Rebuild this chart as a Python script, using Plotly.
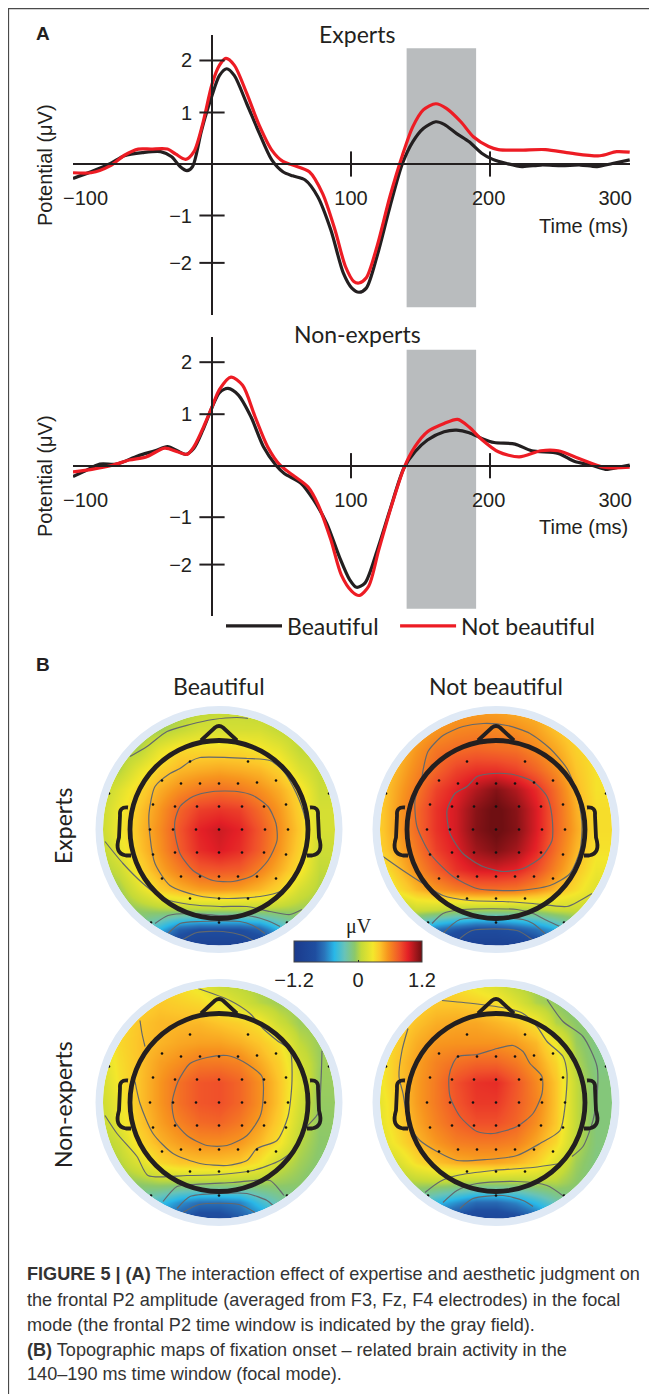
import plotly.graph_objects as go

# ---------- Panel A data ----------
exp_beautiful_t = [-100,-87,-73,-63,-50,-37,-29,-23,-18,-14,-8,-5,0,5.4,10.6,16,25,34,43,51,58,67,76,85.5,94.5,100.6,105.7,111,118.7,128,137,144.4,152,161,167,176,185,194,202,212,223,236.6,251.7,265,277,288,300.5]
exp_beautiful_v = [-0.28,-0.15,0.01,0.16,0.22,0.24,0.14,-0.05,-0.13,-0.05,0.6,0.9,1.33,1.72,1.85,1.72,1.17,0.6,0.08,-0.15,-0.23,-0.31,-0.63,-1.28,-2.12,-2.41,-2.49,-2.41,-1.79,-0.83,0.01,0.43,0.69,0.82,0.77,0.59,0.43,0.21,0.09,0.01,-0.05,-0.02,-0.03,-0.02,-0.05,0.01,0.08]
exp_not_t = [-100,-87,-73,-63,-53,-44,-32,-26,-19,-13,-6.6,0,5.4,10,16,25,34,43,51,58,70,79.5,88.5,96,102,105.7,111,118.7,128,137,144.4,152,161,168.6,179,188,199,206,221,240,258,279,291,300.5]
exp_not_v = [-0.17,-0.17,-0.03,0.17,0.29,0.29,0.29,0.19,0.09,0.24,0.79,1.55,1.92,2.05,1.92,1.37,0.75,0.27,0.05,-0.02,-0.15,-0.57,-1.28,-1.99,-2.28,-2.31,-2.21,-1.6,-0.63,0.17,0.72,1.05,1.17,1.08,0.82,0.53,0.34,0.28,0.27,0.28,0.21,0.16,0.24,0.23]
non_beautiful_t = [-100,-92.7,-80.7,-68.6,-53.5,-41,-32,-25,-19,-13,-6.6,0,5.4,11.5,19,28,37,46,52,64,73,82.5,91.5,99,104,110,119,128,138,146,155,167,176,185,194,203,218,230,249,261,273,283,294,300.5]
non_beautiful_v = [-0.21,-0.12,0.03,0.03,0.19,0.29,0.37,0.29,0.22,0.34,0.69,1.13,1.42,1.5,1.37,0.95,0.37,0.01,-0.15,-0.34,-0.66,-1.12,-1.76,-2.21,-2.36,-2.28,-1.63,-0.86,-0.05,0.27,0.5,0.66,0.69,0.64,0.53,0.45,0.42,0.29,0.24,0.08,0.01,-0.07,-0.02,0.01]
non_not_t = [-100,-86.4,-71.6,-59.5,-47.4,-34,-25,-18,-13,-5,0,5.4,13.6,22,31,40,49,58,69,76.4,85.5,93,100.6,106,112.7,120,129,138,146,155,167,176.7,185,194,206,221,236.6,249,264,282,300.5]
non_not_v = [-0.12,-0.07,0.01,0.11,0.17,0.34,0.27,0.22,0.37,0.82,1.14,1.48,1.72,1.56,0.95,0.37,0.01,-0.18,-0.41,-0.76,-1.44,-2.12,-2.44,-2.52,-2.34,-1.63,-0.79,-0.05,0.37,0.66,0.82,0.9,0.75,0.51,0.27,0.17,0.29,0.29,0.14,-0.03,-0.03]

y_tick_vals = [2.01, 1, -1, -1.92]
y_tick_text = ["2", "1", "\u22121", "\u22122"]
x_tick_vals = [-91, 100, 199, 290]
x_tick_text = ["\u2212100", "100", "200", "300"]
x_cross_ticks = [100, 200]
window_ms = [140, 190]
window_uv = [-2.78, 2.25]

# ---------- Panel B data: coarse colour readings on a 13 x 13 grid ----------
grid_x = [-120,-100,-80,-60,-40,-20,0,20,40,60,80,100,120]
grid_y = [120,100,80,60,40,20,0,-20,-40,-60,-80,-100,-120]
z_exp_beautiful = [
 [-.06,-.06,-.06,-.04,-.02,.02,.06,.06,.02,.02,-.02,-.02,-.02],
 [-.06,-.06,-.04,-.02,.06,.14,.14,.14,.14,.06,.02,-.02,-.02],
 [-.04,-.04,.02,.22,.34,.34,.34,.34,.3,.22,.06,.02,.02],
 [-.02,.02,.22,.37,.45,.48,.5,.48,.45,.37,.18,.06,.06],
 [.02,.18,.35,.48,.58,.65,.68,.65,.58,.48,.34,.1,.1],
 [.06,.25,.41,.55,.72,.84,.87,.84,.7,.55,.37,.14,.14],
 [.06,.27,.43,.58,.77,.93,.99,.93,.77,.58,.4,.14,.14],
 [.02,.22,.41,.56,.75,.9,.96,.9,.75,.56,.37,.1,.1],
 [-.04,.1,.34,.5,.63,.75,.77,.75,.63,.48,.32,.06,.06],
 [-.1,-.02,.18,.37,.46,.52,.54,.52,.45,.35,.14,.02,.02],
 [-.14,-.08,-.04,0,.02,.02,.02,.02,.02,0,-.02,-.04,-.04],
 [-.2,-.14,-.2,-.44,-.72,-.8,-.8,-.8,-.72,-.44,-.16,-.08,-.06],
 [-.24,-.34,-.68,-.95,-1,-1.1,-1.1,-1.1,-1,-.8,-.44,-.14,-.14]]
z_exp_not = [
 [.22,.34,.41,.48,.52,.52,.52,.48,.45,.37,.3,.22,.22],
 [.3,.37,.48,.55,.6,.62,.6,.58,.52,.42,.34,.25,.25],
 [.32,.42,.55,.66,.7,.72,.7,.68,.6,.5,.37,.3,.3],
 [.34,.46,.6,.72,.83,.88,.88,.83,.72,.58,.41,.3,.3],
 [.35,.5,.65,.83,.93,1.05,1.15,1.05,.9,.68,.45,.3,.3],
 [.35,.52,.7,.88,.98,1.14,1.22,1.14,.96,.72,.48,.32,.32],
 [.35,.52,.7,.88,.98,1.15,1.22,1.15,.96,.72,.5,.32,.32],
 [.34,.48,.65,.84,.95,1.09,1.16,1.08,.92,.68,.46,.3,.3],
 [.22,.41,.58,.74,.88,.96,.97,.93,.8,.6,.41,.25,.25],
 [.02,.3,.45,.55,.63,.68,.68,.66,.58,.45,.32,.18,.18],
 [-.1,-.02,.1,.08,.02,0,0,0,.02,.08,.08,.06,.06],
 [-.2,-.24,-.44,-.65,-.76,-.85,-.85,-.76,-.65,-.48,-.2,-.06,-.06],
 [-.24,-.44,-.8,-1,-1.1,-1.1,-1.1,-1.1,-1,-.8,-.44,-.14,-.14]]
z_non_beautiful = [
 [.14,.22,.3,.34,.3,.22,.06,.02,-.02,-.04,-.04,-.04,-.04],
 [.18,.3,.35,.4,.37,.34,.25,.14,.04,-.02,-.04,-.04,-.04],
 [.22,.32,.41,.45,.45,.45,.41,.37,.3,.1,-.02,-.04,-.04],
 [.18,.34,.42,.46,.5,.52,.52,.48,.41,.3,.06,-.03,-.03],
 [.14,.32,.42,.52,.58,.65,.65,.62,.5,.37,.14,-.02,-.02],
 [.1,.3,.42,.55,.68,.77,.79,.72,.58,.41,.18,-.03,-.03],
 [.08,.25,.42,.55,.68,.77,.79,.72,.58,.41,.14,-.04,-.04],
 [.04,.22,.4,.52,.62,.7,.72,.65,.53,.37,.1,-.05,-.05],
 [-.02,.1,.34,.46,.53,.58,.58,.55,.45,.3,.04,-.06,-.06],
 [-.05,.02,.18,.34,.41,.42,.42,.4,.3,.1,-.01,-.08,-.08],
 [-.1,-.06,-.04,0,0,0,0,0,-.01,-.03,-.06,-.12,-.12],
 [-.14,-.14,-.24,-.38,-.55,-.65,-.65,-.6,-.38,-.22,-.14,-.14,-.14],
 [-.2,-.24,-.52,-.72,-.8,-.95,-.95,-.8,-.68,-.44,-.2,-.14,-.14]]
z_non_not = [
 [.18,.25,.3,.32,.3,.22,.14,.02,-.04,-.07,-.12,-.14,-.14],
 [.22,.3,.35,.4,.4,.37,.32,.18,.02,-.05,-.12,-.14,-.14],
 [.25,.35,.42,.48,.5,.5,.46,.41,.3,.02,-.06,-.12,-.12],
 [.25,.37,.48,.55,.56,.56,.56,.53,.45,.25,-.03,-.12,-.12],
 [.22,.4,.52,.62,.68,.72,.72,.65,.53,.35,.02,-.12,-.12],
 [.22,.4,.53,.65,.79,.88,.9,.77,.6,.41,.06,-.1,-.1],
 [.18,.37,.53,.65,.77,.86,.86,.75,.62,.41,.06,-.1,-.1],
 [.18,.35,.5,.62,.72,.79,.79,.72,.58,.4,.06,-.1,-.1],
 [.14,.3,.45,.55,.63,.65,.65,.62,.5,.34,.04,-.1,-.1],
 [.04,.14,.32,.42,.48,.5,.5,.46,.37,.18,-.02,-.12,-.12],
 [-.05,-.03,.02,.04,.02,0,0,0,.02,.02,-.06,-.14,-.14],
 [-.15,-.15,-.25,-.42,-.55,-.68,-.68,-.58,-.42,-.24,-.14,-.14,-.14],
 [-.2,-.3,-.55,-.8,-.95,-1,-1,-.95,-.8,-.52,-.24,-.14,-.14]]

iso_exp_beautiful = [
 [(-89,73),(-72,83),(-52,98),(-29,105),(-6,110),(18,112),(29,111)],
 [(-29,68),(-19,72),(28,71),(51,69),(64,59),(74,43),(84,19),(88,-1),(85,-27),(74,-47),(61,-62),(41,-67),(8,-69),(-22,-66),(-49,-56),(-64,-34),(-69,-7),(-70,16),(-64,43),(-49,56),(-39,61),(-29,68)],
 [(-39,23),(-26,33),(-6,38),(18,38),(34,34),(49,23),(57,6),(58,-11),(49,-31),(34,-46),(14,-52),(-6,-51),(-26,-41),(-39,-24),(-44,-4),(-44,9),(-39,23)],
 [(-114,-12),(-96,-34),(-76,-54),(-56,-69),(-29,-75),(1,-77),(28,-77),(51,-82),(71,-85),(83,-80)],
 [(-64,-94),(-51,-86),(-29,-84),(1,-86),(28,-86),(48,-91),(61,-97)],
 [(-51,-104),(-39,-94),(-19,-92),(21,-92),(34,-96),(46,-104)],
 [(-36,-110),(-22,-103),(4,-102),(24,-106),(34,-111)]]
iso_exp_not = [
 [(-73,59),(-68,78),(-53,94),(-33,103),(-13,106),(11,104),(34,96),(54,81),(71,61),(81,36),(86,6),(84,-21),(74,-44),(54,-56),(21,-61),(-19,-59),(-43,-47),(-66,-24),(-79,3),(-81,29),(-74,53),(-73,59)],
 [(-19,53),(-3,56),(17,55),(37,48),(51,33),(56,13),(56,-11),(46,-27),(27,-39),(7,-42),(-13,-37),(-33,-24),(-46,-4),(-49,19),(-41,36),(-29,43),(-19,53)],
 [(-113,-27),(-93,-41),(-73,-54),(-53,-66),(-26,-71),(7,-72),(37,-74),(71,-77),(84,-71),(96,-64)],
 [(-64,-94),(-53,-84),(-33,-80),(21,-80),(37,-84),(51,-91),(64,-97)],
 [(-53,-104),(-36,-90),(27,-90),(37,-94),(49,-104)],
 [(-36,-109),(-24,-101),(21,-101),(36,-110)]]
iso_non_beautiful = [
 [(-29,39),(-12,45),(8,47),(24,41),(43,26),(44,2),(41,-14),(28,-33),(8,-43),(-12,-43),(-32,-33),(-44,-19),(-47,-1),(-41,21),(-29,39)],
 [(-84,21),(-79,-1),(-66,-31),(-46,-51),(-19,-61),(8,-63),(28,-58),(38,-46),(58,-38),(69,-14),(73,22),(71,52),(58,62),(44,74),(31,89),(11,102),(-21,114)],
 [(-79,82),(-77,69),(-74,56)],
 [(-114,-13),(-102,-31),(-82,-54),(-71,-73),(-32,-73),(1,-72),(34,-68),(61,-58),(74,-48),(88,-24),(99,-11),(102,22),(103,52)],
 [(-56,-99),(-42,-84),(-26,-82),(14,-80),(51,-78),(61,-88),(65,-93)],
 [(-42,-106),(-29,-94),(1,-91),(28,-91),(48,-98),(54,-103)],
 [(-36,-110),(-20,-102),(20,-102),(36,-110)]]
iso_non_not = [
 [(-38,46),(-19,48),(1,54),(17,57),(27,51),(34,39),(46,26),(46,9),(37,-11),(21,-24),(-3,-31),(-19,-29),(-36,-14),(-46,6),(-47,26),(-43,39),(-38,46)],
 [(-54,102),(-23,99),(11,94),(27,89),(41,76),(51,61),(67,46),(71,29),(69,-4),(64,-28),(44,-41),(21,-53),(-9,-57),(-39,-58),(-59,-49),(-76,-38),(-84,-28)],
 [(-88,74),(-94,52),(-97,26),(-93,9),(-88,-24)],
 [(51,103),(67,81),(87,66),(101,36),(101,6),(97,-18),(87,-44),(76,-54)],
 [(-71,-90),(-56,-79),(-39,-73),(-3,-68),(37,-65),(64,-61)],
 [(-53,-100),(-39,-88),(-19,-81),(21,-79),(51,-83),(68,-94)],
 [(-36,-106),(-23,-96),(7,-93),(27,-98),(37,-104)]]

electrodes_x = [-110,110,-29,29,-57,-38,-19,0,19,38,57,-66,-44,-22,0,23,45,67,-69,-46,-23,0,23,46,69,-66,-44,-22,0,23,45,67,-57,-38,-19,0,19,38,57,-29,0,29,-68,0,68]
electrodes_y = [36,36,68,68,49,46,46,46,46,47,49,25,23,23,23,23,23,25,0,0,0,0,0,0,0,-25,-23,-23,-23,-23,-23,-25,-49,-47,-47,-47,-47,-47,-49,-69,-69,-69,-93,-93,-93]

colorscale_stops = [
 (-1.2,"#1b3a8c"),(-0.8,"#1f4ea0"),(-0.63,"#2a74ba"),(-0.44,"#29b8e8"),(-0.25,"#68c3b8"),
 (-0.06,"#8cc86a"),(0.06,"#c4da38"),(0.28,"#f4e72b"),(0.41,"#fcc62a"),(0.56,"#f7941e"),
 (0.79,"#f0502a"),(0.94,"#e31f26"),(1.08,"#a3171c"),(1.2,"#6f0f12")]

# The page body keeps the browser's 8 px margin, so the figure starts at (8, 8).
OFFSET = 8
W, H = 657 - OFFSET, 1394 - OFFSET
def fx(p): return (p - OFFSET) / W
def fy(p): return 1 - (p - OFFSET) / H

fig = go.Figure()
BLACK, RED = "#231f20", "#ed1c24"

# ---------- ERP panels ----------
panels = [
 ("", "", 35, 315, 164.0, exp_beautiful_t, exp_beautiful_v, exp_not_t, exp_not_v, False),
 ("2", "2", 337, 616, 465.7, non_beautiful_t, non_beautiful_v, non_not_t, non_not_v, True),
]
PX_PER_UV = 51.5
layout = {}
shapes = []
for xs, ys, top, bottom, zero, tb, vb, tr, vr, legend in panels:
    xa, ya = "x" + xs, "y" + ys
    fig.add_trace(go.Scatter(x=tb, y=vb, xaxis=xa, yaxis=ya, mode="lines", name="Beautiful\u2002",
                             showlegend=legend, line=dict(color=BLACK, width=3.2, shape="spline", smoothing=0.8)))
    fig.add_trace(go.Scatter(x=tr, y=vr, xaxis=xa, yaxis=ya, mode="lines", name="Not beautiful",
                             showlegend=legend, line=dict(color=RED, width=3.2, shape="spline", smoothing=0.8)))
    fig.add_trace(go.Scatter(x=[0]*len(y_tick_vals), y=y_tick_vals, xaxis=xa, yaxis=ya, mode="markers", showlegend=False,
                             hoverinfo="skip", marker=dict(symbol="line-ew", size=18, line=dict(width=2, color=BLACK))))
    fig.add_trace(go.Scatter(x=x_cross_ticks, y=[0,0], xaxis=xa, yaxis=ya, mode="markers", showlegend=False,
                             hoverinfo="skip", marker=dict(symbol="line-ns", size=18, line=dict(width=2, color=BLACK))))
    layout["xaxis" + xs] = dict(domain=[fx(73), fx(630)], range=[-100, 300.7], anchor="free", position=fy(zero),
                                showgrid=False, zeroline=False, showline=True, linecolor=BLACK, linewidth=2,
                                ticks="", tickvals=x_tick_vals, ticktext=x_tick_text, ticklabelstandoff=16,
                                tickfont=dict(family="Liberation Sans", size=20, color=BLACK))
    layout["yaxis" + ys] = dict(domain=[fy(bottom), fy(top)], range=[(zero - bottom) / PX_PER_UV, (zero - top) / PX_PER_UV],
                                anchor="free", position=fx(212), showgrid=False, zeroline=False,
                                showline=True, linecolor=BLACK, linewidth=2, ticks="",
                                tickvals=y_tick_vals, ticktext=y_tick_text, ticklabelstandoff=15,
                                tickfont=dict(family="Liberation Sans", size=20, color=BLACK))
    shapes.append(dict(type="rect", xref=xa, yref=ya, x0=window_ms[0], x1=window_ms[1], y0=window_uv[0], y1=window_uv[1],
                       fillcolor="#b9bcbe", line_width=0, layer="below"))

# ---------- Topographic maps ----------
R_DISC, R_RING, R_HEAD = 116, 119.75, 89
MAP_HALF = 135   # axis half-range, wider than the heatmap so no edge shows past the mask
K = 0.5523
def circle_path(r):
    c = K * r
    return (f"M {-r} 0 C {-r} {c} {-c} {r} 0 {r} C {c} {r} {r} {c} {r} 0 "
            f"C {r} {-c} {c} {-r} 0 {-r} C {-c} {-r} {-r} {-c} {-r} 0 Z")
MASK = "M -133 -133 L 133 -133 L 133 133 L -133 133 Z " + circle_path(R_DISC)
NOSE = "M -18 89 L -4 102 Q 0 105 4 102 L 18 89"
EAR_L = "M -91 22 Q -100 23 -99 14 L -100 -8 Q -105 -24 -93 -26 L -88 -26"
EAR_R = "M 91 22 Q 100 23 99 14 L 100 -8 Q 105 -24 93 -26 L 88 -26"
maps = [
 (3, 219, 829.5, z_exp_beautiful, iso_exp_beautiful),
 (4, 496, 829.5, z_exp_not, iso_exp_not),
 (5, 219, 1102.5, z_non_beautiful, iso_non_beautiful),
 (6, 496, 1102.5, z_non_not, iso_non_not),
]
for n, cx, cy, z, isos in maps:
    xa, ya = f"x{n}", f"y{n}"
    fig.add_trace(go.Heatmap(x=grid_x, y=grid_y, z=z, coloraxis="coloraxis", zsmooth="best", xaxis=xa, yaxis=ya, hoverinfo="skip"))
    for iso in isos:
        fig.add_trace(go.Scatter(x=[p[0] for p in iso], y=[p[1] for p in iso], xaxis=xa, yaxis=ya, mode="lines", showlegend=False,
                                 hoverinfo="skip", line=dict(color="#63686c", width=1.2, shape="spline", smoothing=0.7)))
    fig.add_trace(go.Scatter(x=electrodes_x, y=electrodes_y, xaxis=xa, yaxis=ya, mode="markers", showlegend=False,
                             hoverinfo="skip", marker=dict(color="#111111", size=2.6)))
    layout[f"xaxis{n}"] = dict(domain=[fx(cx - MAP_HALF), fx(cx + MAP_HALF)], range=[-MAP_HALF, MAP_HALF], visible=False, anchor=ya)
    layout[f"yaxis{n}"] = dict(domain=[fy(cy + MAP_HALF), fy(cy - MAP_HALF)], range=[-MAP_HALF, MAP_HALF], visible=False, anchor=xa)
    ref = dict(xref=xa, yref=ya, layer="above")
    shapes.append(dict(type="path", path=MASK, fillcolor="white", line_width=0, **ref))
    shapes.append(dict(type="circle", x0=-R_RING, x1=R_RING, y0=-R_RING, y1=R_RING, line=dict(color="#dfe9f5", width=7.5), **ref))
    shapes.append(dict(type="circle", x0=-R_HEAD, x1=R_HEAD, y0=-R_HEAD, y1=R_HEAD, line=dict(color=BLACK, width=4.8), **ref))
    for p in (NOSE, EAR_L, EAR_R):
        shapes.append(dict(type="path", path=p, line=dict(color=BLACK, width=3.8), **ref))

# page frame
shapes.append(dict(type="line", xref="paper", yref="paper", x0=0, x1=1, y0=0.9996, y1=0.9996, line=dict(color="#4a4a4a", width=1.2)))
shapes.append(dict(type="line", xref="paper", yref="paper", x0=0.0008, x1=0.0008, y0=0, y1=1, line=dict(color="#4a4a4a", width=1.2)))

def note(text, x, y, size, family="Lato", color=BLACK, xanchor="center", angle=0):
    return dict(text=text, xref="paper", yref="paper", x=fx(x), y=fy(y), xanchor=xanchor, yanchor="middle",
                showarrow=False, textangle=angle, font=dict(family=family, size=size, color=color))

cap = "Liberation Sans"
CAP_COLOR = "#333333"
annotations = [
 note("<b>A</b>", 43, 33, 19, cap),
 note("<b>B</b>", 43, 664, 19, cap),
 note("Experts", 357, 34, 23),
 note("Non-experts", 357, 334, 23),
 note("Potential (\u03bcV)", 45, 165, 20, cap, angle=-90),
 note("Potential (\u03bcV)", 45, 476, 20, cap, angle=-90),
 note("Time (ms)", 630, 226, 20, cap, xanchor="right"),
 note("Time (ms)", 630, 527, 20, cap, xanchor="right"),
 note("Beautiful", 219, 686, 23),
 note("Not beautiful", 496, 686, 23),
 note("Experts", 63, 826, 23, angle=-90),
 note("Non-experts", 63, 1105, 23, angle=-90),
 note("\u03bcV", 359, 927, 20, "Liberation Serif"),
 note("<b>FIGURE 5 | (A)</b> The interaction effect of expertise and aesthetic judgment on", 25, 1274, 18.1, cap, CAP_COLOR, "left"),
 note("the frontal P2 amplitude (averaged from F3, Fz, F4 electrodes) in the focal", 25, 1300, 18.1, cap, CAP_COLOR, "left"),
 note("mode (the frontal P2 time window is indicated by the gray field).", 25, 1325, 18.1, cap, CAP_COLOR, "left"),
 note("<b>(B)</b> Topographic maps of fixation onset \u2013 related brain activity in the", 25, 1350, 18.1, cap, CAP_COLOR, "left"),
 note("140\u2013190 ms time window (focal mode).", 25, 1374, 18.1, cap, CAP_COLOR, "left"),
]

cmin, cmax = colorscale_stops[0][0], colorscale_stops[-1][0]
fig.update_layout(
    width=W, height=H, margin=dict(l=0, r=0, t=0, b=0, pad=0, autoexpand=False), paper_bgcolor="white", plot_bgcolor="rgba(0,0,0,0)",
    autosize=False, shapes=shapes, annotations=annotations,
    legend=dict(orientation="h", x=fx(221), y=fy(626), xanchor="left", yanchor="middle", itemwidth=56,
                bgcolor="rgba(0,0,0,0)", traceorder="normal",
                font=dict(family="Lato", size=23, color=BLACK), itemclick=False, itemdoubleclick=False),
    coloraxis=dict(cmin=cmin, cmax=cmax,
                   colorscale=[[(v - cmin) / (cmax - cmin), c] for v, c in colorscale_stops],
                   colorbar=dict(orientation="h", x=fx(358), xanchor="center", y=fy(941), yanchor="top",
                                 thickness=21, thicknessmode="pixels", len=128, lenmode="pixels", xpad=0, ypad=0,
                                 outlinewidth=1, outlinecolor="#444444", ticks="inside", ticklen=2, tickcolor="#222222",
                                 tickvals=[-1.2, 0, 1.2], ticktext=["\u22121.2", "0", "1.2"],
                                 tickfont=dict(family="Liberation Sans", size=20, color=BLACK))),
    **layout,
)
fig.write_html("out.html")
